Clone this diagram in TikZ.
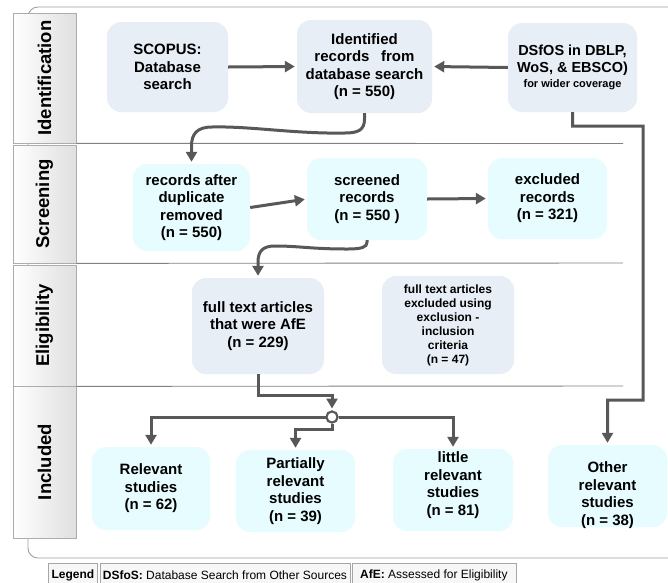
\documentclass[tikz,border=0pt]{standalone}
\usepackage{fontspec}
\setmainfont{Liberation Sans}
\usetikzlibrary{arrows.meta}
\definecolor{boxA}{RGB}{232,238,246}
\definecolor{boxB}{RGB}{230,252,254}
\definecolor{arr}{RGB}{88,88,88}
\definecolor{laneline}{RGB}{130,130,130}
\begin{document}
\begin{tikzpicture}[x=1pt,y=-1pt,
  stbox/.style={rounded corners=14pt, align=center, font=\fontsize{15}{17.5}\selectfont\bfseries, inner sep=0pt},
  greybox/.style={stbox, fill=boxA},
  cyanbox/.style={stbox, fill=boxB},
  txt/.style={align=center, font=\fontsize{15}{17.5}\selectfont\bfseries, inner sep=0pt},
  conn/.style={draw=arr, line width=3pt, -{Triangle[length=10pt,width=11pt]}, shorten >=2pt},
  header/.style={draw=gray!65, line width=0.7pt, left color=white, right color=gray!25, minimum width=63pt, inner sep=0pt},
  lanetext/.style={rotate=90, font=\fontsize{18.5}{20}\selectfont\bfseries, text=black},
  divider/.style={draw=laneline, line width=0.9pt},
  legcell/.style={draw=gray!70, line width=0.8pt, fill=gray!6, minimum height=24pt, inner sep=1pt, anchor=north west, font=\fontsize{12}{14}\selectfont}
]
\useasboundingbox (0,0) rectangle (668,582);
\fill[white] (0,0) rectangle (668,582);

% outer frame
\draw[draw=gray!75, line width=0.9pt, rounded corners=10pt] (28,7) rectangle (720,558);

% lane headers
\node[header, minimum height=130pt] (hid) at (44.5,78) {};
\node[lanetext] at (hid) {\bfseries Identification};
\node[header, minimum height=118pt] (hsc) at (44.5,204) {};
\node[lanetext] at (hsc) {\bfseries Screening};
\node[header, minimum height=121pt] (hel) at (44.5,325.5) {};
\node[lanetext] at (hel) {\bfseries Eligibility};
\node[header, minimum height=152pt] (hin) at (44.5,462) {};
\node[lanetext] at (hin) {\bfseries Included};

% dividers
\draw[divider] (hid.south east) -- (623,143.5);
\draw[divider] (hsc.south east) -- (623,263);
\draw[divider] (hel.south east) -- (623,386);

% boxes
\node[greybox, minimum width=121pt, minimum height=90pt] (scopus) at (167.5,67) {SCOPUS:\\Database\\search};
\node[greybox, minimum width=135pt, minimum height=93pt] (ident) at (364.5,66.5) {Identified\\records\hspace{0.5em} from\\database search\\(n = 550)};
\node[greybox, minimum width=129pt, minimum height=89pt, font=\fontsize{14.5}{17}\selectfont\bfseries] (dsfos) at (572.5,67.5) {DSfOS in DBLP,\\WoS, \& EBSCO)\\[-2pt]{\fontsize{11}{12}\selectfont for wider coverage}};

\node[cyanbox, minimum width=117pt, minimum height=87pt] (dup) at (191.5,207.5) {records after\\duplicate\\removed\\(n = 550)};
\node[cyanbox, minimum width=120pt, minimum height=82pt] (scr) at (367,199) {screened\\records\\(n = 550 )};
\node[cyanbox, minimum width=119pt, minimum height=81pt] (exc) at (547.5,198.5) {excluded\\records\\(n = 321)};

\node[greybox, minimum width=132pt, minimum height=96pt] (afe) at (258,326) {full text articles\\that were AfE\\(n = 229)};
\node[greybox, minimum width=132pt, minimum height=98pt, font=\fontsize{12}{14}\selectfont\bfseries] (crit) at (448,325) {full text articles\\excluded using\\exclusion -\\inclusion\\criteria\\(n = 47)};

\node[cyanbox, minimum width=118pt, minimum height=83pt] (rel) at (151,488.5) {Relevant\\studies\\(n = 62)};
\node[cyanbox, minimum width=119pt, minimum height=82pt] (part) at (295.5,491) {Partially\\relevant\\studies\\(n = 39)};
\node[cyanbox, minimum width=120pt, minimum height=82pt] (little) at (453,490) {};
\node[txt] at ([yshift=5pt]little.center) {little\\relevant\\studies\\(n = 81)};
\node[cyanbox, minimum width=119pt, minimum height=82pt] (other) at (607.5,486) {};
\node[txt] at ([yshift=-9pt]other.center) {Other\\relevant\\studies\\(n = 38)};

% junction
\node[circle, draw=arr, line width=2pt, fill=white, minimum size=11pt, inner sep=0pt] (junc) at (332,417) {};

% connectors
\draw[conn] (scopus.east) -- (ident.west);
\draw[conn] (dsfos.west) -- (ident.east);
\draw[conn] (ident.south) -- ++(0,6) .. controls (364.5,130) and (358,133) .. (345,133)
  .. controls (295,134) and (250,126) .. (212,127)
  .. controls (197,127) and (191.5,134) .. (191.5,146) -- (dup.north);
\draw[conn] (dup.east) -- (scr.west);
\draw[conn] (scr.east) -- (exc.west);
\draw[conn] (scr.south) -- ++(0,2) .. controls (367,247) and (362,249) .. (348,249)
  .. controls (310,249) and (300,246) .. (275,246)
  .. controls (263,246) and (258,251) .. (258,262) -- (afe.north);
\draw[conn] (afe.south) -- ++(0,21) -| (junc.north);
\draw[conn] (junc.west) -| (rel.north);
\draw[conn] (junc.south) -- ++(0,5.5) -| (part.north);
\draw[conn] (junc.east) -| (little.north);
\draw[conn] (dsfos.south) -- ++(0,14) -- (643,126) -- (643,400) -| (other.north);
\node[circle, draw=arr, line width=2pt, fill=white, minimum size=11pt, inner sep=0pt] at (junc) {};

% legend
\node[legcell, minimum width=49pt, font=\fontsize{12}{14}\selectfont\bfseries] (leg) at (48,563) {Legend};
\node[legcell, minimum width=250pt] (leg1) at (99.5,563) {\textbf{DSfoS:} Database Search from Other Sources};
\node[legcell, minimum width=164pt] (leg2) at (351.5,563) {\textbf{AfE:} Assessed for Eligibility};
\end{tikzpicture}
\end{document}
